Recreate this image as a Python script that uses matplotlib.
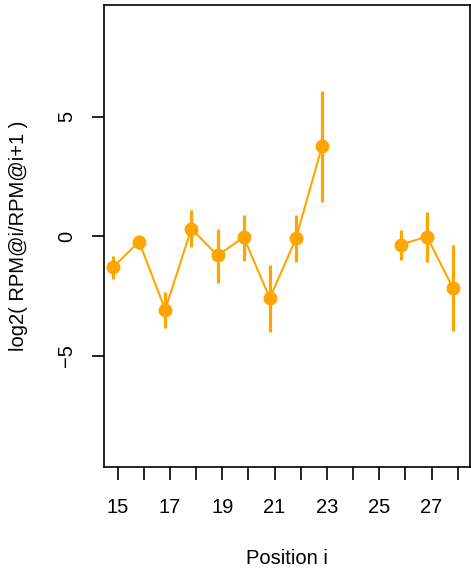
import numpy as np
import matplotlib
matplotlib.use('Agg')
import matplotlib.pyplot as plt

plt.rcParams['font.family'] = ['Liberation Sans', 'DejaVu Sans']

# position i, log2 ratio and its interval (NaN = no data)
positions = [15, 16, 17, 18, 19, 20, 21, 22, 23, 24, 25, 26, 27, 28]
ratio = [-1.30, -0.22, -3.07, 0.32, -0.80, -0.04, -2.59, -0.08, 3.79,
         np.nan, np.nan, -0.35, -0.01, -2.16]
ci_high = [-0.84, 0.07, -2.33, 1.11, 0.32, 0.90, -1.21, 0.90, 6.10,
           np.nan, np.nan, 0.25, 1.01, -0.36]
ci_low = [-1.80, -0.53, -3.83, -0.46, -1.94, -1.02, -4.00, -1.07, 1.44,
          np.nan, np.nan, -0.98, -1.08, -3.97]
x_ticks = list(range(15, 29))
x_labels = [str(t) if t % 2 == 1 else '' for t in x_ticks]

COL = '#FFA500'
OFFSET = -0.18

fig = plt.figure(figsize=(4.71, 5.73), dpi=100)
ax = fig.add_axes([104 / 471, 106 / 573, 366 / 471, 462 / 573])

x = np.array(positions) + OFFSET
ax.vlines(x, ci_low, ci_high, color=COL, lw=2.3, zorder=2)
ax.plot(x, ratio, color=COL, lw=1.5, marker='o', ms=9, zorder=3)

ax.set_xlim(14.48, 28.47)
ax.set_ylim(-9.65, 9.68)
ax.set_xticks(x_ticks)
ax.set_xticklabels(x_labels)
ax.set_yticks([-5, 0, 5])
ax.set_yticklabels(['\u22125', '0', '5'], rotation=90, va='center')

ax.tick_params(axis='both', direction='out', length=9, width=1.2,
               labelsize=14.5, color='black')
ax.tick_params(axis='x', pad=13)
ax.tick_params(axis='y', pad=11)
for s in ax.spines.values():
    s.set_linewidth(1.2)

ax.set_xlabel('Position i', fontsize=14.5, labelpad=23)
ax.set_ylabel('log2( RPM@i/RPM@i+1 )', fontsize=14.5, labelpad=21)

plt.savefig('out.png', dpi=100)
